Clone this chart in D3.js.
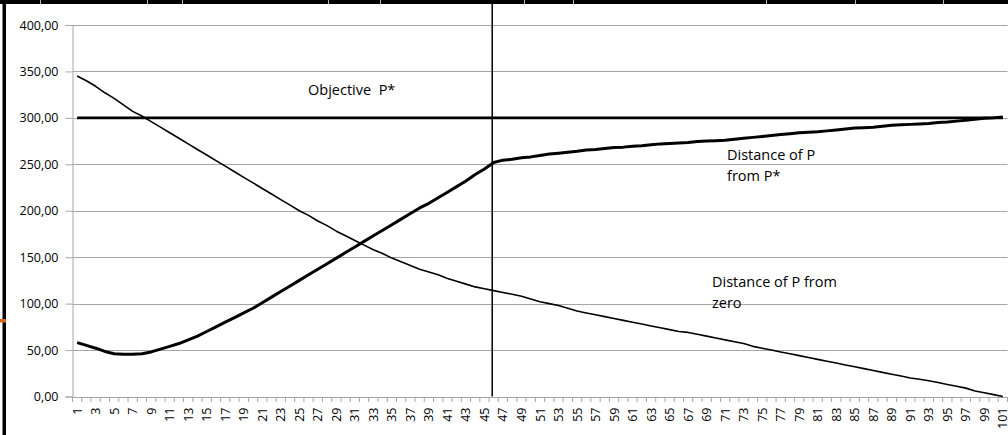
<!DOCTYPE html>
<html>
<head>
<meta charset="utf-8">
<script src="https://cdn.jsdelivr.net/npm/d3@7/dist/d3.min.js"></script>
<style>
  html, body { margin: 0; padding: 0; background: #fff; }
  svg { display: block; }
  text { font-family: "Open Sans", "DejaVu Sans", sans-serif; fill: #000; }
</style>
</head>
<body>
<svg id="chart" width="1008" height="435"></svg>
<script>
// ---- data ----
const categories = d3.range(1, 102).map(String);
const distanceFromZero = [
  345, 340, 334, 327, 321, 314, 307, 302, 296, 290,
  284, 278, 272, 266, 260, 254, 248, 242, 236, 230,
  224, 218, 212, 206, 200, 195, 189, 184, 178, 173,
  168, 163, 158, 154, 149, 145, 141, 137, 134, 131,
  127, 124, 121, 118, 116, 114, 112, 110, 108, 105,
  102, 100, 98, 95, 92, 90, 88, 86, 84, 82,
  80, 78, 76, 74, 72, 70, 69, 67, 65, 63,
  61, 59, 57, 54, 52, 50, 48, 46, 44, 42,
  40, 38, 36, 34, 32, 30, 28, 26, 24, 22,
  20, 18.5, 17, 15, 13, 11, 9, 6, 4, 2,
  0
];
const distanceFromTarget = [
  58, 55, 52, 48.5, 46, 45.5, 45.5, 46, 48, 51,
  54, 57, 61, 65, 70, 75, 80, 85, 90, 95,
  101, 107, 113, 119, 125, 131, 137, 143, 149, 155,
  161, 167, 173, 179, 185, 191, 197, 203, 208, 214,
  220, 226, 232, 239, 245, 252, 254.5, 255.5, 257, 258,
  259.5, 261, 262, 263, 264, 265.5, 266, 267, 268, 268.5,
  269.5, 270, 271, 272, 272.5, 273, 273.5, 274.5, 275, 275.5,
  276, 277, 278, 279, 280, 281, 282, 283, 284, 284.5,
  285, 286, 287, 288, 289, 289.5, 290, 291, 292, 292.5,
  293, 293.5, 294, 295, 295.5, 296.5, 297.5, 298.5, 299.5, 300,
  301
];
const objectiveValue = 300;
const markerCategory = "46";
const yTicks = [0, 50, 100, 150, 200, 250, 300, 350, 400];
const xLabelCategories = categories.filter((c, i) => i % 2 === 0);
const annotations = [
  { lines: ["Objective\u00a0\u00a0P*"] },
  { lines: ["Distance of P", "from P*"] },
  { lines: ["Distance of P from", "zero"] }
];

// ---- layout ----
const svg = d3.select("#chart");
const plot = { left: 72.5, right: 1007.5, top: 25, bottom: 396.5 };

const x = d3.scaleBand().domain(categories).range([plot.left, plot.right]).padding(0);
const xc = c => x(c) + x.bandwidth() / 2;
const y = d3.scaleLinear().domain([0, 400]).range([plot.bottom, plot.top]);

// frame decorations (sheet borders)
svg.append("rect").attr("x", 0).attr("y", 0).attr("width", 1008).attr("height", 4).attr("fill", "#000");
svg.append("rect").attr("x", 2.5).attr("y", 0).attr("width", 3.5).attr("height", 435).attr("fill", "#000");
[40, 147, 182, 328, 380, 524, 573, 766, 855, 943].forEach(px => {
  svg.append("line").attr("x1", px + 0.5).attr("x2", px + 0.5).attr("y1", 0).attr("y2", 4)
    .attr("stroke", "#bbb").attr("stroke-width", 1);
});
svg.append("rect").attr("x", 0).attr("y", 319).attr("width", 6).attr("height", 3.5).attr("fill", "#d9661c");

// gridlines
svg.append("g").selectAll("line").data(yTicks).join("line")
  .attr("x1", plot.left).attr("x2", plot.right)
  .attr("y1", d => Math.round(y(d)) + 0.5).attr("y2", d => Math.round(y(d)) + 0.5)
  .attr("stroke", "#a6a6a6").attr("stroke-width", 1);

// y axis
const yAxis = d3.axisLeft(y).tickValues(yTicks).tickSize(7).tickPadding(7)
  .tickFormat(d => d3.format(".2f")(d).replace(".", ","));
const gy = svg.append("g").attr("transform", `translate(${plot.left},0)`).call(yAxis);
gy.select(".domain").attr("stroke", "#a6a6a6");
gy.selectAll(".tick line").attr("stroke", "#a6a6a6");
gy.selectAll(".tick text").attr("font-size", 12.5).attr("font-family", "Open Sans").attr("fill", "#000");

// x axis line & ticks at band boundaries
svg.append("line").attr("x1", plot.left).attr("x2", plot.right)
  .attr("y1", Math.round(plot.bottom) + 0.5).attr("y2", Math.round(plot.bottom) + 0.5)
  .attr("stroke", "#a6a6a6");
svg.append("g").selectAll("line").data(categories.concat(["__end"])).join("line")
  .attr("x1", d => d === "__end" ? plot.right : x(d))
  .attr("x2", d => d === "__end" ? plot.right : x(d))
  .attr("y1", Math.round(plot.bottom)).attr("y2", Math.round(plot.bottom) + 5)
  .attr("stroke", "#a6a6a6");

// x labels
const xAxis = d3.axisBottom(x).tickValues(xLabelCategories).tickSize(0);
const gx = svg.append("g").attr("transform", `translate(0,${plot.bottom})`).call(xAxis);
gx.select(".domain").remove();
gx.selectAll(".tick text")
  .attr("font-size", 12.5).attr("font-family", "Open Sans").attr("fill", "#000")
  .attr("text-anchor", "end")
  .attr("transform", "rotate(-90)")
  .attr("x", -11).attr("y", 0).attr("dy", "0.36em").attr("dx", 0);

// objective line
svg.append("line")
  .attr("x1", xc(categories[0])).attr("x2", xc(categories[categories.length - 1]))
  .attr("y1", y(objectiveValue)).attr("y2", y(objectiveValue))
  .attr("stroke", "#000").attr("stroke-width", 2.6);

// vertical marker
svg.append("line")
  .attr("x1", xc(markerCategory) - 1.5).attr("x2", xc(markerCategory) - 1.5)
  .attr("y1", 4).attr("y2", plot.bottom)
  .attr("stroke", "#000").attr("stroke-width", 1.5);

// series
const line = d3.line().x((d, i) => xc(categories[i])).y(d => y(d));
svg.append("path").datum(distanceFromZero).attr("d", line)
  .attr("fill", "none").attr("stroke", "#000").attr("stroke-width", 1.6).attr("stroke-linejoin", "round");
svg.append("path").datum(distanceFromTarget).attr("d", line)
  .attr("fill", "none").attr("stroke", "#000").attr("stroke-width", 3).attr("stroke-linejoin", "round");

// annotations
const annPos = [ { x: 308, y: 95 }, { x: 727, y: 159.5 }, { x: 712, y: 286.5 } ];
annotations.forEach((a, i) => {
  const t = svg.append("text").attr("x", annPos[i].x).attr("y", annPos[i].y).attr("font-size", 14.5);
  a.lines.forEach((ln, j) => {
    t.append("tspan").attr("x", annPos[i].x).attr("dy", j === 0 ? 0 : 21.2).text(ln);
  });
});
</script>
</body>
</html>
